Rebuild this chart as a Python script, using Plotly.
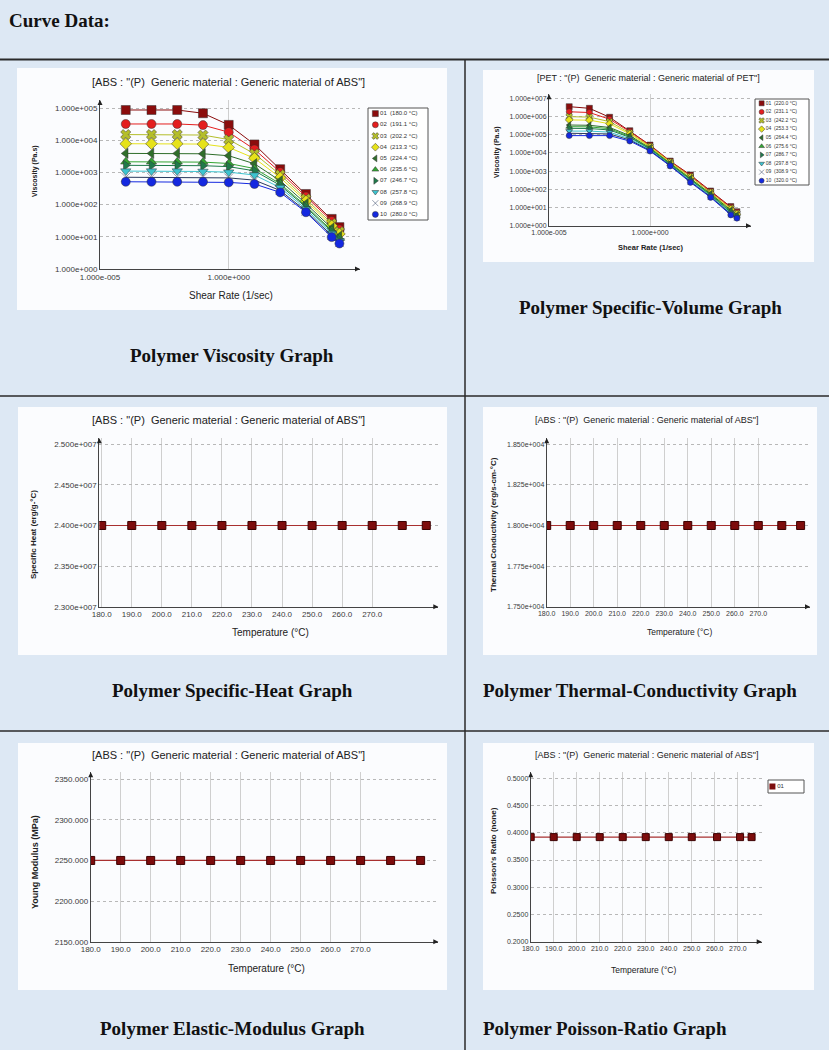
import plotly.graph_objects as go

W, H = 829, 1050


def px(x):
    return x / W


def py(y):
    return 1 - y / H


# ---------------- DATA ----------------
shear_rate = [1e-4, 1e-3, 1e-2, 1e-1, 1e0, 1e1, 1e2, 1e3, 1e4, 2e4]

abs_labels = ["01  (180.0 °C)", "02  (191.1 °C)", "03  (202.2 °C)", "04  (213.3 °C)", "05  (224.4 °C)",
              "06  (235.6 °C)", "07  (246.7 °C)", "08  (257.8 °C)", "09  (268.9 °C)", "10  (280.0 °C)"]
abs_visc_01 = [8.7e4, 8.7e4, 8.7e4, 6.9e4, 3.0e4, 7.4e3, 1260, 214, 36, 20]
abs_visc_02 = [3.2e4, 3.2e4, 3.2e4, 2.95e4, 1.78e4, 5.2e3, 1020, 178, 31, 17]
abs_visc_03 = [1.5e4, 1.5e4, 1.5e4, 1.45e4, 1.05e4, 3.8e3, 850, 151, 26, 14.5]
abs_visc_04 = [7.8e3, 7.8e3, 7.8e3, 7.6e3, 6.0e3, 2.75e3, 690, 129, 22, 12.3]
abs_visc_05 = [3.9e3, 3.9e3, 3.9e3, 3.8e3, 3.3e3, 1.86e3, 550, 107, 18.6, 10.5]
abs_visc_06 = [2140, 2140, 2140, 2090, 1900, 1320, 447, 91, 15.8, 9.1]
abs_visc_07 = [1660, 1660, 1660, 1620, 1510, 1120, 398, 83, 14.5, 8.3]
abs_visc_08 = [1100, 1100, 1100, 1070, 1020, 832, 339, 72, 12.6, 7.4]
abs_visc_09 = [708, 708, 708, 708, 676, 575, 275, 63, 11, 6.6]
abs_visc_10 = [513, 513, 513, 513, 490, 437, 240, 58, 9.8, 6.2]

pet_labels = ["01  (220.0 °C)", "02  (231.1 °C)", "03  (242.2 °C)", "04  (253.3 °C)", "05  (264.4 °C)",
              "06  (275.6 °C)", "07  (286.7 °C)", "08  (297.8 °C)", "09  (308.9 °C)", "10  (320.0 °C)"]
pet_visc_01 = [3.47e6, 2.82e6, 9.1e5, 1.66e5, 2.7e4, 3550, 617, 81, 11.2, 5.9]
pet_visc_02 = [1.82e6, 1.66e6, 7.1e5, 1.48e5, 2.51e4, 3390, 562, 76, 10.2, 5.4]
pet_visc_03 = [9.8e5, 9.3e5, 5.2e5, 1.26e5, 2.29e4, 3160, 501, 69, 9.1, 4.8]
pet_visc_04 = [6.5e5, 6.3e5, 4.0e5, 1.10e5, 2.09e4, 2950, 447, 63, 8.1, 4.3]
pet_visc_05 = [3.4e5, 3.3e5, 2.5e5, 8.9e4, 1.86e4, 2690, 398, 56, 7.1, 3.8]
pet_visc_06 = [2.75e5, 2.7e5, 2.14e5, 7.9e4, 1.74e4, 2510, 355, 51, 6.2, 3.5]
pet_visc_07 = [2.24e5, 2.19e5, 1.82e5, 7.1e4, 1.62e4, 2340, 324, 47, 5.4, 3.2]
pet_visc_08 = [1.58e5, 1.58e5, 1.38e5, 5.9e4, 1.48e4, 2190, 288, 43, 4.8, 3.0]
pet_visc_09 = [1.2e5, 1.2e5, 1.1e5, 5.1e4, 1.35e4, 2040, 263, 39, 4.3, 2.75]
pet_visc_10 = [8.9e4, 8.9e4, 8.9e4, 4.47e4, 1.26e4, 1910, 240, 36, 3.9, 2.6]

temps_cp = [180, 190, 200, 210, 220, 230, 240, 250, 260, 270, 280, 288]
specific_heat = [2.4e7, 2.4e7, 2.4e7, 2.4e7, 2.4e7, 2.4e7, 2.4e7, 2.4e7, 2.4e7, 2.4e7, 2.4e7, 2.4e7]
temps_k = [180, 190, 200, 210, 220, 230, 240, 250, 260, 270, 280, 288]
thermal_cond = [1.8e4, 1.8e4, 1.8e4, 1.8e4, 1.8e4, 1.8e4, 1.8e4, 1.8e4, 1.8e4, 1.8e4, 1.8e4, 1.8e4]
temps_e = [180, 190, 200, 210, 220, 230, 240, 250, 260, 270, 280, 290]
young_modulus = [2250, 2250, 2250, 2250, 2250, 2250, 2250, 2250, 2250, 2250, 2250, 2250]
temps_nu = [180, 190, 200, 210, 220, 230, 240, 250, 261, 271, 276]
poisson_ratio = [0.392, 0.392, 0.392, 0.392, 0.392, 0.392, 0.392, 0.392, 0.392, 0.392, 0.392]

temp_ticks = [180, 190, 200, 210, 220, 230, 240, 250, 260, 270]
temp_tick_text = ["180.0", "190.0", "200.0", "210.0", "220.0", "230.0", "240.0", "250.0", "260.0", "270.0"]
cp_ticks = [2.30e7, 2.35e7, 2.40e7, 2.45e7, 2.50e7]
cp_tick_text = ["2.300e+007", "2.350e+007", "2.400e+007", "2.450e+007", "2.500e+007"]
k_ticks = [1.75e4, 1.775e4, 1.80e4, 1.825e4, 1.85e4]
k_tick_text = ["1.750e+004", "1.775e+004", "1.800e+004", "1.825e+004", "1.850e+004"]
e_ticks = [2150, 2200, 2250, 2300, 2350]
e_tick_text = ["2150.000", "2200.000", "2250.000", "2300.000", "2350.000"]
nu_ticks = [0.20, 0.25, 0.30, 0.35, 0.40, 0.45, 0.50]
nu_tick_text = ["0.2000", "0.2500", "0.3000", "0.3500", "0.4000", "0.4500", "0.5000"]

# ---------------- STYLE ----------------
series_colors = ["#8b0c0c", "#e41e1e", "#b4be2a", "#e6e21a", "#2f6e2a",
                 "#33a532", "#1f7a4a", "#3cc3cf", "#2a3a5c", "#1428e0"]
series_symbols = ["square", "circle", "x", "diamond", "triangle-left",
                  "triangle-up", "triangle-right", "triangle-down", "x-thin-open", "circle"]
abs_series = [abs_visc_01, abs_visc_02, abs_visc_03, abs_visc_04, abs_visc_05,
              abs_visc_06, abs_visc_07, abs_visc_08, abs_visc_09, abs_visc_10]
pet_series = [pet_visc_01, pet_visc_02, pet_visc_03, pet_visc_04, pet_visc_05,
              pet_visc_06, pet_visc_07, pet_visc_08, pet_visc_09, pet_visc_10]

SANS = "Liberation Sans, Arial, sans-serif"
TICKL = dict(family=SANS, size=8, color="#3a3a3a")   # left column tick labels
TICKR = dict(family=SANS, size=7, color="#3a3a3a")   # right column tick labels
CAPF = dict(family="Liberation Serif, Times New Roman, serif", size=19, color="#111111")

fig = go.Figure()

# Viscosity ABS
for i, vals in enumerate(abs_series):
    fig.add_trace(go.Scatter(
        x=shear_rate, y=vals, mode="lines+markers", xaxis="x", yaxis="y",
        line=dict(color=series_colors[i], width=1),
        marker=dict(symbol=series_symbols[i], size=9, color=series_colors[i],
                    line=dict(color="#333333", width=0.5)),
        name=abs_labels[i]))
# Viscosity PET
for i, vals in enumerate(pet_series):
    fig.add_trace(go.Scatter(
        x=shear_rate, y=vals, mode="lines+markers", xaxis="x2", yaxis="y2",
        line=dict(color=series_colors[i], width=1),
        marker=dict(symbol=series_symbols[i], size=6, color=series_colors[i],
                    line=dict(color="#333333", width=0.5)),
        name=pet_labels[i]))

flat_marker = dict(symbol="square", size=8, color="#7d0c0c", line=dict(color="#3c0000", width=1))
flat_line = dict(color="#a83030", width=1.2)
fig.add_trace(go.Scatter(x=temps_cp, y=specific_heat, mode="lines+markers", xaxis="x3", yaxis="y3",
                         marker=flat_marker, line=flat_line))
fig.add_trace(go.Scatter(x=temps_k, y=thermal_cond, mode="lines+markers", xaxis="x4", yaxis="y4",
                         marker=flat_marker, line=flat_line))
fig.add_trace(go.Scatter(x=temps_e, y=young_modulus, mode="lines+markers", xaxis="x5", yaxis="y5",
                         marker=flat_marker, line=flat_line))
fig.add_trace(go.Scatter(x=temps_nu, y=poisson_ratio, mode="lines+markers", xaxis="x6", yaxis="y6",
                         marker=dict(symbol="square", size=7, color="#7d0c0c",
                                     line=dict(color="#3c0000", width=1)), line=flat_line))

# Legend panels (drawn as small charts of the series labels)
for i, lab in enumerate(abs_labels):
    fig.add_trace(go.Scatter(x=[0], y=[i], mode="markers+text", xaxis="x7", yaxis="y7",
                             marker=dict(symbol=series_symbols[i], size=6, color=series_colors[i],
                                         line=dict(color="#333333", width=0.5)),
                             text=[lab], textposition="middle right",
                             textfont=dict(family=SANS, size=6, color="#333")))
for i, lab in enumerate(pet_labels):
    fig.add_trace(go.Scatter(x=[0], y=[i], mode="markers+text", xaxis="x8", yaxis="y8",
                             marker=dict(symbol=series_symbols[i], size=5, color=series_colors[i],
                                         line=dict(color="#333333", width=0.5)),
                             text=[lab], textposition="middle right",
                             textfont=dict(family=SANS, size=5, color="#333")))
fig.add_trace(go.Scatter(x=[0], y=[0], mode="markers+text", xaxis="x9", yaxis="y9",
                         marker=dict(symbol="square", size=6, color="#7d0c0c"),
                         text=["01"], textposition="middle right",
                         textfont=dict(family=SANS, size=6, color="#333")))


def axis_style(**kw):
    d = dict(showline=True, linecolor="#444444", linewidth=1, ticks="", tickfont=TICKL,
             zeroline=False, showgrid=True, gridcolor="#cfcfcf", gridwidth=1, fixedrange=True,
             automargin=False)
    d.update(kw)
    return d


def hide_axis(**kw):
    d = dict(visible=False, fixedrange=True, automargin=False)
    d.update(kw)
    return d


layout = dict(
    template="none",
    width=W, height=H, autosize=False,
    margin=dict(l=0, r=0, t=0, b=0, pad=0, autoexpand=False),
    font=dict(family=SANS, color="#333333"),
    paper_bgcolor="#dde8f4", plot_bgcolor="rgba(0,0,0,0)", showlegend=False,
    # ABS viscosity
    xaxis=axis_style(type="log", domain=[px(100), px(360)], range=[-5, 5.1], anchor="y",
                     tickvals=[1e-5, 1e0], ticktext=["1.000e-005", "1.000e+000"]),
    yaxis=axis_style(type="log", domain=[py(269), py(100)], range=[0, 5.25], anchor="x",
                     tickvals=[1, 10, 100, 1e3, 1e4, 1e5],
                     ticktext=["1.000e+000", "1.000e+001", "1.000e+002", "1.000e+003", "1.000e+004", "1.000e+005"],
                     griddash="dot", gridcolor="#b8b8b8"),
    # PET viscosity
    xaxis2=axis_style(type="log", domain=[px(549), px(751)], range=[-5, 5.0], anchor="y2",
                      tickvals=[1e-5, 1e0], ticktext=["1.000e-005", "1.000e+000"], tickfont=TICKR),
    yaxis2=axis_style(type="log", domain=[py(225.7), py(94.3)], range=[0, 7.22], anchor="x2",
                      tickvals=[1, 10, 100, 1e3, 1e4, 1e5, 1e6, 1e7],
                      ticktext=["1.000e+000", "1.000e+001", "1.000e+002", "1.000e+003", "1.000e+004",
                                "1.000e+005", "1.000e+006", "1.000e+007"],
                      tickfont=TICKR, griddash="dot", gridcolor="#b8b8b8"),
    # Specific heat
    xaxis3=axis_style(domain=[px(99.3), px(438.3)], range=[179.2, 292], anchor="y3",
                      tickvals=temp_ticks, ticktext=temp_tick_text),
    yaxis3=axis_style(domain=[py(606.7), py(438.3)], range=[2.30e7, 2.5074e7], anchor="x3",
                      tickvals=cp_ticks, ticktext=cp_tick_text, griddash="dot", gridcolor="#b8b8b8"),
    # Thermal conductivity
    xaxis4=axis_style(domain=[px(546.7), px(810)], range=[180, 292], anchor="y4",
                      tickvals=temp_ticks, ticktext=temp_tick_text, tickfont=TICKR),
    yaxis4=axis_style(domain=[py(606.7), py(438.3)], range=[1.75e4, 1.8537e4], anchor="x4",
                      tickvals=k_ticks, ticktext=k_tick_text, tickfont=TICKR,
                      griddash="dot", gridcolor="#b8b8b8"),
    # Elastic modulus
    xaxis5=axis_style(domain=[px(90.7), px(438.3)], range=[180, 295.9], anchor="y5",
                      tickvals=temp_ticks, ticktext=temp_tick_text),
    yaxis5=axis_style(domain=[py(941.7), py(772.3)], range=[2150, 2358.5], anchor="x5",
                      tickvals=e_ticks, ticktext=e_tick_text, griddash="dot", gridcolor="#b8b8b8"),
    # Poisson ratio
    xaxis6=axis_style(domain=[px(530.7), px(761.7)], range=[180, 280.4], anchor="y6",
                      tickvals=temp_ticks, ticktext=temp_tick_text, tickfont=TICKR),
    yaxis6=axis_style(domain=[py(941.7), py(772.3)], range=[0.2, 0.511], anchor="x6",
                      tickvals=nu_ticks, ticktext=nu_tick_text, tickfont=TICKR,
                      griddash="dot", gridcolor="#b8b8b8"),
    # legend axes
    xaxis7=hide_axis(domain=[px(368), px(428)], range=[-0.7, 5], anchor="y7"),
    yaxis7=hide_axis(domain=[py(220), py(108)], range=[9.5, -0.5], anchor="x7"),
    xaxis8=hide_axis(domain=[px(755), px(809)], range=[-0.7, 5], anchor="y8"),
    yaxis8=hide_axis(domain=[py(185), py(99)], range=[9.5, -0.5], anchor="x8"),
    xaxis9=hide_axis(domain=[px(768), px(804)], range=[-0.7, 5], anchor="y9"),
    yaxis9=hide_axis(domain=[py(793), py(780)], range=[0.5, -0.5], anchor="x9"),
)
fig.update_layout(**layout)

shapes = []
# white chart panels
for (x0, y0, x1, y1) in [(17, 68, 447, 310), (483, 70, 814, 262), (18, 407, 447, 655),
                         (483, 407, 817, 655), (18, 743, 447, 990), (483, 743, 814, 990)]:
    shapes.append(dict(type="rect", xref="paper", yref="paper", x0=px(x0), x1=px(x1), y0=py(y1), y1=py(y0),
                       fillcolor="#fbfcfe", line=dict(width=0), layer="below"))
# legend frames
for (x0, y0, x1, y1) in [(368, 108, 428, 220), (755, 99, 809, 185), (768, 780, 804, 793)]:
    shapes.append(dict(type="rect", xref="paper", yref="paper", x0=px(x0), x1=px(x1), y0=py(y1), y1=py(y0),
                       fillcolor="white", line=dict(width=1, color="#555555"), layer="below"))
# table rules
shapes.append(dict(type="line", xref="paper", yref="paper", x0=0, x1=1, y0=py(59.5), y1=py(59.5),
                   line=dict(color="#2a2a2a", width=2)))
for yy in [396, 731]:
    shapes.append(dict(type="line", xref="paper", yref="paper", x0=0, x1=1, y0=py(yy), y1=py(yy),
                       line=dict(color="#2a2a2a", width=1.5)))
shapes.append(dict(type="line", xref="paper", yref="paper", x0=px(465), x1=px(465), y0=0, y1=py(60),
                   line=dict(color="#2a2a2a", width=1.5)))
fig.update_layout(shapes=shapes)

ann = []


def text(x, y, s, font, angle=0, xanchor="center"):
    ann.append(dict(x=px(x), y=py(y), xref="paper", yref="paper", text=s, showarrow=False,
                    font=font, textangle=angle, xanchor=xanchor, yanchor="middle"))


text(7, 20, "<b>Curve Data:</b>", CAPF, xanchor="left")
text(232, 355, "<b>Polymer Viscosity Graph</b>", CAPF)
text(650, 307, "<b>Polymer Specific-Volume Graph</b>", CAPF)
text(232, 690, "<b>Polymer Specific-Heat Graph</b>", CAPF)
text(640, 690, "<b>Polymer Thermal-Conductivity Graph</b>", CAPF)
text(232, 1028, "<b>Polymer Elastic-Modulus Graph</b>", CAPF)
text(605, 1028, "<b>Polymer Poisson-Ratio Graph</b>", CAPF)

TITL = dict(family=SANS, size=11, color="#222222")
TITR = dict(family=SANS, size=9, color="#222222")
abs_title = "[ABS : \"(P)  Generic material : Generic material of ABS\"]"
text(228, 82, abs_title, TITL)
text(648, 78, "[PET : \"(P)  Generic material : Generic material of PET\"]", TITR)
text(228, 420, abs_title, TITL)
text(646, 420, abs_title, TITR)
text(228, 755, abs_title, TITL)
text(646, 755, abs_title, TITR)


def f(size, color="#222222"):
    return dict(family=SANS, size=size, color=color)


text(231, 295, "Shear Rate (1/sec)", f(10))
text(35, 171, "<b>Viscosity (Pa.s)</b>", f(7), angle=-90)
text(651, 247, "<b>Shear Rate (1/sec)</b>", f(7.5))
text(497, 152, "<b>Viscosity (Pa.s)</b>", f(7), angle=-90)
text(270, 632, "Temperature (°C)", f(10))
text(33, 535, "<b>Specific Heat (erg/g-°C)</b>", f(8), angle=-90)
text(679, 632, "Temperature (°C)", f(8.5))
text(493, 525, "<b>Thermal Conductivity (erg/s-cm-°C)</b>", f(8), angle=-90)
text(266, 968, "Temperature (°C)", f(10))
text(35, 862, "<b>Young Modulus (MPa)</b>", f(9), angle=-90)
text(643, 970, "Temperature (°C)", f(8.5))
text(493, 851, "<b>Poisson's Ratio (none)</b>", f(8), angle=-90)

# axis-end arrowheads
for k in ["", "2", "3", "4", "5", "6"]:
    ann.append(dict(x=1, y=0, xref="x%s domain" % k, yref="y%s domain" % k, text="", showarrow=True,
                    ax=-6, ay=0, arrowhead=2, arrowsize=1, arrowwidth=1, arrowcolor="#222222"))
    ann.append(dict(x=0, y=1, xref="x%s domain" % k, yref="y%s domain" % k, text="", showarrow=True,
                    ax=0, ay=6, arrowhead=2, arrowsize=1, arrowwidth=1, arrowcolor="#222222"))

fig.update_layout(annotations=ann)
fig.write_html("out.html", config={"displayModeBar": False},
               post_script="document.body.style.margin='0';document.body.style.overflow='hidden';")
